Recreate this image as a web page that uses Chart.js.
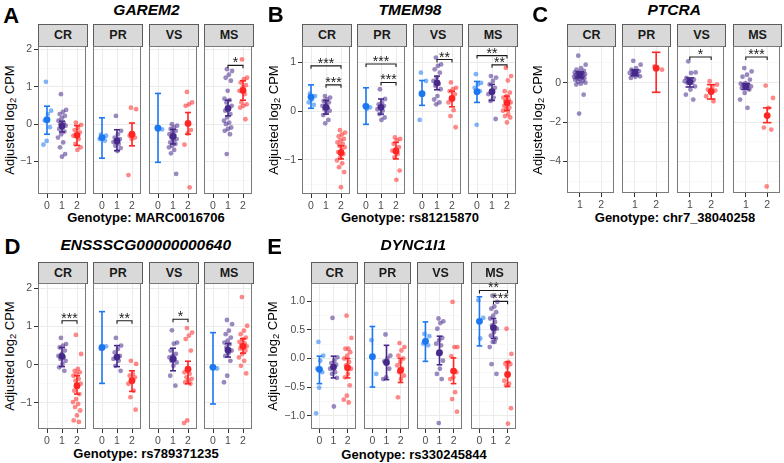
<!DOCTYPE html>
<html><head><meta charset="utf-8">
<script src="https://cdn.jsdelivr.net/npm/chart.js@4.4.1/dist/chart.umd.min.js"></script>
<style>
html,body{margin:0;padding:0;background:#fff;}
body{width:784px;height:463px;position:relative;overflow:hidden;font-family:'Liberation Sans',Arial,sans-serif;}
.abs{position:absolute;white-space:nowrap;line-height:1;transform:translate(-50%,-50%);}
.letter{font-weight:bold;font-size:22px;color:#000;}
.title{font-weight:bold;font-style:italic;font-size:15.5px;color:#000;}
.xt{font-weight:bold;font-size:13px;color:#000;}
.yt{font-size:13px;color:#000;transform:translate(-50%,-50%) rotate(-90deg);}
.yt sub{font-size:9.5px;vertical-align:-2px;line-height:0;}
.strip{position:absolute;box-sizing:border-box;background:#D9D9D9;border:1px solid #5c5c5c;font-weight:bold;font-size:12.5px;color:#1a1a1a;display:flex;align-items:center;justify-content:center;line-height:1;}
canvas{position:absolute;}
</style></head><body>
<script>
// ---------------- DATA ----------------
const FACETS = ['CR', 'PR', 'VS', 'MS'];

// Panel A: GAREM2, MARC0016706 (per facet: CR, PR, VS, MS)
const A_geno = [0, 1, 2];
const A_g0 = [[1.13, 0.36, 0.27, 0.1, -0.08, -0.45, -0.55], [-0.28, -0.31, -0.36, -0.4, -0.44], [-0.08, -0.14], []];
const A_g1 = [
  [0.8, 0.38, 0.33, 0.27, 0.22, 0.16, 0.09, 0.03, 0.0, -0.04, -0.09, -0.13, -0.2, -0.27, -0.36, -0.49, -0.62, -0.8, -0.87],
  [0.22, -0.18, -0.27, -0.36, -0.4, -0.44, -0.48, -0.53, -0.58, -0.64, -0.72],
  [0.0, -0.04, -0.09, -0.13, -0.18, -0.22, -0.27, -0.31, -0.36, -0.4, -0.44, -0.49, -0.53, -0.58, -0.62, -0.69, -0.78, -1.33],
  [1.47, 1.42, 1.32, 1.24, 1.16, 0.89, 0.68, 0.64, 0.58, 0.49, 0.4, 0.36, 0.27, 0.18, 0.09, 0.04, 0.0, -0.09, -0.13, -0.18, -0.27, -0.8]];
const A_g2 = [
  [0.04, -0.02, -0.1, -0.16, -0.22, -0.3, -0.31, -0.4, -0.53, -0.62, -0.69],
  [0.44, 0.4, -0.27, -0.31, -0.36, -0.4, -1.36],
  [0.86, 0.58, 0.53, 0.49, -0.16, -0.25, -0.55, -1.69],
  [1.73, 1.24, 1.2, 1.11, 1.04, 0.98, 0.89, 0.8, 0.58, 0.53, 0.49, 0.44, 0.13]];
const A_mean = [[0.12, -0.05, -0.3], [-0.36, -0.45, -0.27], [-0.11, -0.33, 0.02], [null, 0.42, 0.9]];
const A_lo = [[-0.27, -0.21, -0.57], [-0.91, -0.71, -0.58], [-1.02, -0.53, -0.27], [null, 0.22, 0.64]];
const A_hi = [[0.48, 0.08, -0.04], [0.17, -0.15, 0.03], [0.82, -0.14, 0.31], [null, 0.64, 1.16]];
const A_sig = [[3, 1, 2, 1.57, '*']];
const A_yticks = [-1, 0, 1, 2];
const A_ylim = [-1.867, 2.088];

// Panel B: TMEM98, rs81215870
const B_geno = [0, 1, 2];
const B_g0 = [[0.36, 0.31, 0.24, 0.18, 0.13], [0.12, 0.08, 0.05], [0.79, 0.62, 0.35, -0.18], [0.76, 0.58, 0.55, 0.48, 0.41, -0.28]];
const B_g1 = [
  [0.31, 0.28, 0.24, 0.21, 0.18, 0.14, 0.11, 0.07, 0.04, 0.01, -0.03, -0.08, -0.18, -0.25],
  [0.45, 0.25, 0.18, 0.14, 0.11, 0.07, 0.04, 0.01, -0.06, -0.13, -0.18],
  [1.1, 0.96, 0.93, 0.86, 0.79, 0.69, 0.62, 0.56, 0.52, 0.45, 0.31, 0.24, 0.18, 0.14],
  [0.72, 0.69, 0.62, 0.55, 0.48, 0.41, 0.35, 0.28, 0.21, -0.16]];
const B_g2 = [
  [-0.39, -0.44, -0.48, -0.52, -0.57, -0.6, -0.64, -0.67, -0.71, -0.74, -0.8, -0.84, -0.88, -0.95, -1.01, -1.07, -1.15, -1.25, -1.56],
  [-0.54, -0.57, -0.6, -0.67, -0.74, -0.78, -0.81, -0.88, -0.95, -1.22, -1.41],
  [0.59, 0.48, 0.45, 0.41, 0.35, 0.28, 0.18, 0.02, -0.1, -0.33],
  [0.89, 0.72, 0.63, 0.41, 0.38, 0.31, 0.28, 0.24, 0.21, 0.18, 0.14, 0.11, 0.07, 0.04, 0.01, -0.06, -0.1, -0.13, -0.23]];
const B_mean = [[0.29, 0.08, -0.85], [0.1, 0.08, -0.82], [0.36, 0.58, 0.26], [0.4, 0.4, 0.17]];
const B_lo = [[0.06, -0.06, -0.98], [-0.27, -0.06, -0.98], [0.12, 0.44, 0.09], [0.18, 0.22, 0.01]];
const B_hi = [[0.54, 0.22, -0.71], [0.48, 0.25, -0.64], [0.63, 0.72, 0.41], [0.61, 0.55, 0.31]];
const B_sig = [[0, 0, 2, 0.93, '***'], [0, 1, 2, 0.54, '***'], [1, 0, 2, 0.97, '***'], [1, 1, 2, 0.59, '***'],
               [2, 1, 2, 1.06, '**'], [3, 0, 2, 1.14, '**'], [3, 1, 2, 0.95, '**']];
const B_yticks = [-1, 0, 1];
const B_ylim = [-1.70, 1.338];

// Panel C: PTCRA, chr7_38040258 (genotypes 1 and 2 only)
const C_geno = [1, 2];
const C_g0 = [[], [], [], []];
const C_g1 = [
  [1.37, 0.91, 0.74, 0.66, 0.6, 0.55, 0.52, 0.49, 0.46, 0.43, 0.4, 0.38, 0.35, 0.32, 0.3, 0.27, 0.24, 0.22, 0.19, 0.15, 0.1, 0.05, 0.0, -0.05, -0.1, -0.61, -1.57],
  [1.11, 0.91, 0.74, 0.66, 0.58, 0.55, 0.49, 0.45, 0.42, 0.32, 0.3, 0.24],
  [1.08, 0.52, 0.49, 0.24, 0.15, 0.1, 0.07, 0.0, -0.02, -0.19, -0.35, -0.61, -0.86],
  [0.74, 0.57, 0.4, 0.3, 0.15, -0.02, -0.05, -0.1, -0.15, -0.19, -0.22, -0.27, -0.35, -0.52, -0.86, -1.28]];
const C_g2 = [[], [0.83, 0.66], [0.07, -0.1, -0.19, -0.35, -0.4, -0.52, -0.69, -0.95], [-0.15, -0.78, -1.28, -2.28, -2.38, -5.27]];
const C_mean = [[null, 0.4, null], [null, 0.5, 0.73], [null, 0.05, -0.45], [null, -0.2, -1.67]];
const C_lo = [[null, 0.25, null], [null, 0.35, -0.49], [null, -0.22, -0.83], [null, -0.35, -2.03]];
const C_hi = [[null, 0.55, null], [null, 0.65, 1.54], [null, 0.24, -0.1], [null, -0.05, -1.28]];
const C_sig = [[2, 1, 2, 1.3, '*'], [3, 1, 2, 1.3, '***']];
const C_yticks = [-4, -2, 0];
const C_ylim = [-5.6, 1.86];

// Panel D: ENSSSCG00000000640, rs789371235
const D_geno = [0, 1, 2];
const D_g0 = [[], [0.42, 0.48], [], [-0.05, -0.1]];
const D_g1 = [
  [0.7, 0.54, 0.5, 0.45, 0.37, 0.28, 0.23, 0.19, 0.15, 0.1, 0.02, -0.07, -0.16],
  [0.7, 0.5, 0.41, 0.32, 0.23, 0.19, 0.15, 0.1, -0.03, -0.16],
  [0.9, 0.58, 0.55, 0.37, 0.28, 0.23, 0.19, 0.15, 0.1, 0.06, -0.03, -0.29, -0.55],
  [1.17, 1.06, 0.89, 0.8, 0.71, 0.63, 0.58, 0.54, 0.45, 0.37, 0.3, 0.23, 0.1, -0.29, -0.46]];
const D_g2 = [
  [0.78, 0.28, -0.11, -0.16, -0.2, -0.24, -0.29, -0.37, -0.42, -0.5, -0.59, -0.68, -0.77, -0.9, -0.98, -1.03, -1.11, -1.2, -1.33, -1.46, -1.5],
  [0.1, 0.02, -0.24, -0.29, -0.33, -0.42, -0.5, -0.68, -0.85, -1.18],
  [0.96, 0.84, 0.76, 0.67, 0.37, -0.11, -0.2, -0.24, -0.33, -0.37, -0.42, -0.46, -0.5, -1.46, -1.53],
  [1.77, 1.02, 0.89, 0.8, 0.71, 0.66, 0.6, 0.56, 0.52, 0.48, 0.45, 0.42, 0.37, 0.28, 0.19, 0.1, -0.03, -0.23]];
const D_mean = [[null, 0.22, -0.55], [0.45, 0.2, -0.42], [null, 0.15, -0.12], [-0.07, 0.38, 0.48]];
const D_lo = [[null, -0.05, -0.77], [-0.49, -0.05, -0.7], [null, -0.16, -0.5], [-1.03, 0.2, 0.3]];
const D_hi = [[null, 0.45, -0.29], [1.39, 0.5, -0.16], [null, 0.43, 0.09], [0.84, 0.55, 0.68]];
const D_sig = [[0, 1, 2, 1.15, '***'], [1, 1, 2, 1.15, '**'], [2, 1, 2, 1.19, '*']];
const D_yticks = [-1, 0, 1, 2];
const D_ylim = [-1.685, 2.14];

// Panel E: DYNC1I1, rs330245844
const E_geno = [0, 1, 2];
const E_g0 = [[0.29, 0.05, -0.04, -0.18, -0.24, -0.51, -0.96], [0.32, -0.27], [0.43, 0.39, 0.32, 0.26, 0.23], [1.02, 0.71, 0.35]];
const E_g1 = [
  [0.71, 0.02, -0.04, -0.08, -0.11, -0.14, -0.18, -0.24, -0.27, -0.34, -0.84],
  [0.42, 0.05, 0.0, -0.05, -0.18, -0.33, -0.36],
  [0.7, 0.65, 0.62, 0.52, 0.36, 0.32, 0.26, 0.23, 0.08, -0.04, -0.18, -0.27, -0.36, -1.13],
  [1.1, 0.99, 0.91, 0.87, 0.81, 0.75, 0.7, 0.64, 0.58, 0.52, 0.46, 0.4, 0.35, 0.29, 0.2, 0.29, -0.1, -0.27]];
const E_g2 = [
  [0.75, 0.36, 0.17, 0.17, 0.11, 0.05, 0.0, -0.06, -0.12, -0.18, -0.27, -0.33, -0.47, -0.65, -0.72, -0.77],
  [0.27, 0.2, 0.14, 0.05, 0.0, -0.06, -0.12, -0.18, -0.24, -0.3, -0.36, -0.68],
  [0.99, 0.2, 0.2, 0.04, -0.24, -0.33, -0.36, -0.59, -0.71, -0.93],
  [0.52, 0.08, -0.06, -0.09, -0.1, -0.15, -0.39, -0.44, -0.47, -0.87, -1.14]];
const E_mean = [[-0.19, -0.15, -0.16], [0.03, -0.07, -0.21], [0.3, 0.1, -0.22], [0.65, 0.54, -0.28]];
const E_lo = [[-0.44, -0.34, -0.34], [-0.5, -0.37, -0.42], [-0.05, -0.11, -0.44], [0.22, 0.35, -0.49]];
const E_hi = [[0.04, 0.04, 0.0], [0.56, 0.23, 0.0], [0.64, 0.39, 0.01], [1.08, 0.7, -0.06]];
const E_sig = [[3, 0, 2, 1.19, '**'], [3, 1, 2, 1.0, '***']];
const E_yticks = [-1.0, -0.5, 0.0, 0.5, 1.0];
const E_ylim = [-1.234, 1.321];

// ---------------- LAYOUT / STYLE ----------------
const COL = ['#1C78F0', '#47298B', '#FF2626'];
const LAYOUT = {
  A: {letter: [11.3, 15.5], title: [146.5, 9.5], stripTop: 24, top: 46, bottom: 194, lefts: [38, 93, 149, 204], w: 50, yTitleX: 8.5, xTitle: [146, 217]},
  B: {letter: [275.8, 14.5], title: [410, 9.5], stripTop: 24, top: 46, bottom: 194, lefts: [302, 357, 413, 468], w: 50, yTitleX: 272.5, xTitle: [410, 217]},
  C: {letter: [540.3, 14.5], title: [674.2, 10], stripTop: 24, top: 46, bottom: 193, lefts: [567, 622, 677, 733], w: 49, yTitleX: 537, xTitle: [675, 217]},
  D: {letter: [12.5, 246.5], title: [145.8, 245], stripTop: 262, top: 283, bottom: 429, lefts: [38, 93, 149, 204], w: 50, yTitleX: 8.5, xTitle: [146, 453.3]},
  E: {letter: [274.5, 247], title: [413.3, 245], stripTop: 262, top: 283, bottom: 429, lefts: [311, 364, 417, 471], w: 47, yTitleX: 272, xTitle: [414, 453.5]}
};

const PANELS = [
  {id: 'A', gene: 'GAREM2', snp: 'MARC0016706', geno: A_geno, g: [A_g0, A_g1, A_g2], mean: A_mean, lo: A_lo, hi: A_hi, sig: A_sig, yticks: A_yticks, ylim: A_ylim, dec: 0},
  {id: 'B', gene: 'TMEM98', snp: 'rs81215870', geno: B_geno, g: [B_g0, B_g1, B_g2], mean: B_mean, lo: B_lo, hi: B_hi, sig: B_sig, yticks: B_yticks, ylim: B_ylim, dec: 0},
  {id: 'C', gene: 'PTCRA', snp: 'chr7_38040258', geno: C_geno, g: [C_g0, C_g1, C_g2], mean: C_mean, lo: C_lo, hi: C_hi, sig: C_sig, yticks: C_yticks, ylim: C_ylim, dec: 0},
  {id: 'D', gene: 'ENSSSCG00000000640', snp: 'rs789371235', geno: D_geno, g: [D_g0, D_g1, D_g2], mean: D_mean, lo: D_lo, hi: D_hi, sig: D_sig, yticks: D_yticks, ylim: D_ylim, dec: 0},
  {id: 'E', gene: 'DYNC1I1', snp: 'rs330245844', geno: E_geno, g: [E_g0, E_g1, E_g2], mean: E_mean, lo: E_lo, hi: E_hi, sig: E_sig, yticks: E_yticks, ylim: E_ylim, dec: 1}
];

// ---------------- DRAW ----------------
Chart.defaults.font.family = "'Liberation Sans', Arial, sans-serif";
const FONT = "'Liberation Sans', Arial, sans-serif";

function rgba(hex, a) {
  const n = parseInt(hex.slice(1), 16);
  return 'rgba(' + (n >> 16) + ',' + ((n >> 8) & 255) + ',' + (n & 255) + ',' + a + ')';
}
function jit(i) { const f = (i * 0.6180339887 + 0.37) % 1; return (f - 0.5) * 0.56; }
function addDiv(cls, html, x, y) {
  const d = document.createElement('div');
  d.className = 'abs ' + cls; d.innerHTML = html;
  d.style.left = x + 'px'; d.style.top = y + 'px';
  document.body.appendChild(d);
}
function fmt(v, dec) { return v.toFixed(dec).replace('-', '\u2212'); }

const panelPlugin = {
  id: 'panelDeco',
  afterDatasetsDraw(chart, args, opts) {
    const c = chart.ctx, sx = chart.scales.x, sy = chart.scales.y, ca = chart.chartArea;
    c.save();
    c.font = '14px ' + FONT; c.fillStyle = '#1a1a1a'; c.textAlign = 'center'; c.textBaseline = 'alphabetic';
    (opts.items || []).forEach(s => {
      c.fillText(s[4], sx.getPixelForValue((s[1] + s[2]) / 2), sy.getPixelForValue(s[3]) + 2);
    });
    c.strokeStyle = '#7a7a7a'; c.lineWidth = 1;
    c.strokeRect(Math.round(ca.left) + 0.5, Math.round(ca.top) + 0.5, Math.round(ca.right - ca.left) - 1, Math.round(ca.bottom - ca.top) - 1);
    c.restore();
  }
};

const PADL = 32, PADT = 12, PADB = 26, PADR = 2, CAP = 0.2;

function makeFacet(P, fi) {
  const L = LAYOUT[P.id];
  const left = L.lefts[fi], w = L.w, top = L.top, bottom = L.bottom;
  const cw = w + PADL + PADR, ch = bottom - top + PADT + PADB;
  const cv = document.createElement('canvas');
  cv.width = cw; cv.height = ch;
  cv.style.left = (left - PADL) + 'px'; cv.style.top = (top - PADT) + 'px';
  cv.style.width = cw + 'px'; cv.style.height = ch + 'px';
  document.body.appendChild(cv);

  const ds = [];
  P.geno.forEach(gv => {
    const vals = P.g[gv][fi];
    if (vals.length) ds.push({data: vals.map((v, i) => ({x: gv + jit(i), y: v})), pointRadius: 2.4,
      pointBackgroundColor: rgba(COL[gv], 0.55), pointBorderWidth: 0, showLine: false});
  });
  P.geno.forEach(gv => {
    const m = P.mean[fi][gv];
    if (m == null) return;
    const lo = P.lo[fi][gv], hi = P.hi[fi][gv];
    const seg = (a, b) => ds.push({data: [a, b], showLine: true, borderColor: COL[gv], borderWidth: 1.6, pointRadius: 0, borderCapStyle: 'butt'});
    seg({x: gv, y: lo}, {x: gv, y: hi});
    seg({x: gv - CAP, y: lo}, {x: gv + CAP, y: lo});
    seg({x: gv - CAP, y: hi}, {x: gv + CAP, y: hi});
    ds.push({data: [{x: gv, y: m}], pointRadius: 3.4, pointBackgroundColor: COL[gv], pointBorderWidth: 0, showLine: false});
  });
  const tip = (P.ylim[1] - P.ylim[0]) * 0.02;
  const sigs = P.sig.filter(s => s[0] === fi);
  sigs.forEach(s => {
    ds.push({data: [{x: s[1], y: s[3] - tip}, {x: s[1], y: s[3]}, {x: s[2], y: s[3]}, {x: s[2], y: s[3] - tip}],
      showLine: true, borderColor: '#1a1a1a', borderWidth: 1.1, pointRadius: 0});
  });

  const first = fi === 0;
  const majors = P.yticks;
  const step = majors[1] - majors[0];
  const yt = [];
  for (let k = -1; k < majors.length; k++) {
    const mv = majors[0] + k * step + step / 2;
    if (mv > P.ylim[0] && mv < P.ylim[1]) yt.push(mv);
  }
  majors.forEach(v => yt.push(v));
  yt.sort((a, b) => a - b);
  const isMajor = v => majors.some(m => Math.abs(m - v) < 1e-9);
  const xmin = P.geno[0] - 0.6, xmax = P.geno[P.geno.length - 1] + 0.6;

  new Chart(cv, {
    type: 'scatter',
    data: {datasets: ds},
    options: {
      responsive: false, animation: false, events: [],
      layout: {padding: {top: PADT, right: PADR, left: 0, bottom: 0}},
      plugins: {legend: {display: false}, tooltip: {enabled: false}, panelDeco: {items: sigs}},
      scales: {
        x: {
          type: 'linear', min: xmin, max: xmax,
          afterBuildTicks: s => { s.ticks = P.geno.map(v => ({value: v})); },
          afterFit: s => { s.height = PADB; },
          border: {display: false},
          grid: {color: '#EBEBEB', lineWidth: 1, tickColor: '#333333', tickLength: 4, tickWidth: 1},
          ticks: {autoSkip: false, maxRotation: 0, padding: 2, color: '#4D4D4D', font: {size: 10.5}, callback: v => String(v)}
        },
        y: {
          type: 'linear', min: P.ylim[0], max: P.ylim[1],
          afterBuildTicks: s => { s.ticks = yt.map(v => ({value: v})); },
          afterFit: s => { s.width = PADL; },
          border: {display: false},
          grid: {
            color: ctx => isMajor(ctx.tick.value) ? '#EBEBEB' : '#F3F3F3',
            lineWidth: ctx => isMajor(ctx.tick.value) ? 1 : 0.6,
            tickColor: ctx => (first && isMajor(ctx.tick.value)) ? '#333333' : 'rgba(0,0,0,0)',
            tickLength: 4, tickWidth: 1
          },
          ticks: {autoSkip: false, padding: 2, color: '#4D4D4D', font: {size: 10.5},
            callback: v => (first && isMajor(v)) ? fmt(v, P.dec) : ''}
        }
      }
    },
    plugins: [panelPlugin]
  });
}

PANELS.forEach(P => {
  const L = LAYOUT[P.id];
  addDiv('letter', P.id, L.letter[0], L.letter[1]);
  addDiv('title', P.gene, L.title[0], L.title[1]);
  addDiv('xt', 'Genotype: ' + P.snp, L.xTitle[0], L.xTitle[1]);
  addDiv('yt', 'Adjusted log<sub>2</sub> CPM', L.yTitleX, (L.top + L.bottom) / 2);
  FACETS.forEach((f, fi) => {
    const s = document.createElement('div');
    s.className = 'strip'; s.textContent = f;
    s.style.left = L.lefts[fi] + 'px'; s.style.top = L.stripTop + 'px';
    s.style.width = L.w + 'px'; s.style.height = (L.top - L.stripTop + 1) + 'px';
    document.body.appendChild(s);
  });
  FACETS.forEach((f, fi) => makeFacet(P, fi));
});
</script>
</body></html>
